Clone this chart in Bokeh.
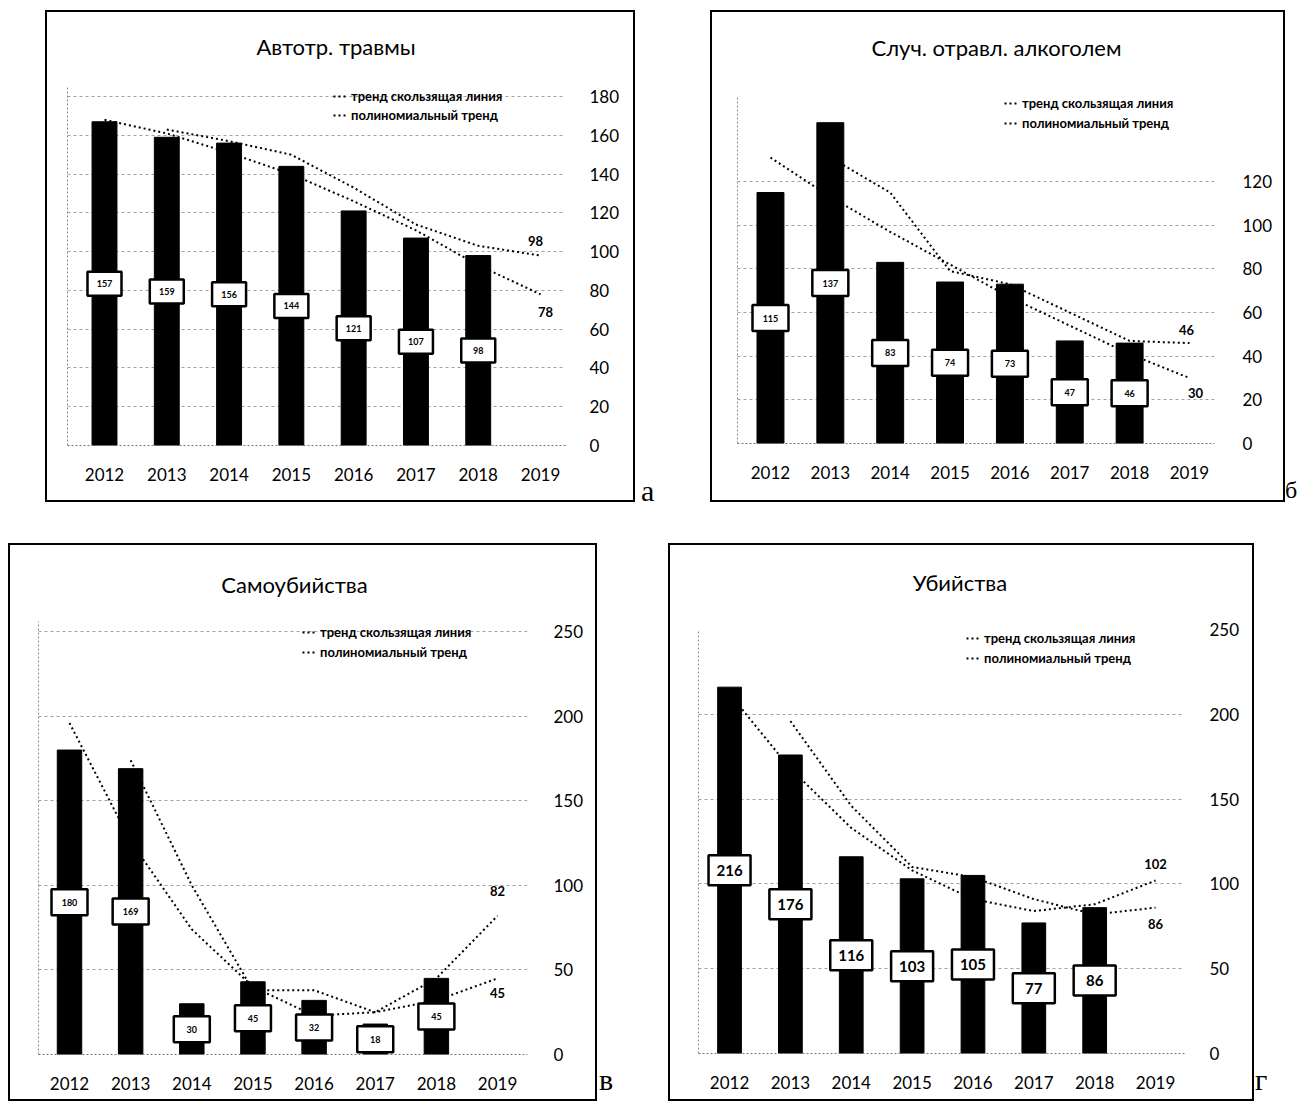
from bokeh.plotting import figure
from bokeh.models import (ColumnDataSource, Range1d, FixedTicker, Legend, LegendItem,
                          Div, Spacer, LinearAxis)
from bokeh.layouts import row, column
from bokeh.embed import file_html
from bokeh.resources import INLINE
from bokeh.core.properties import value

# ---------------- data ----------------
years = [2012, 2013, 2014, 2015, 2016, 2017, 2018]
year_ticks = [2012, 2013, 2014, 2015, 2016, 2017, 2018, 2019]
ma_years = [2013, 2014, 2015, 2016, 2017, 2018, 2019]
poly_years = [2012, 2013, 2014, 2015, 2016, 2017, 2018, 2019]

legend_ma = "тренд скользящая линия"
legend_poly = "полиномиальный тренд"

auto_title = "Автотр. травмы"
auto_values = [167, 159, 156, 144, 121, 107, 98]
auto_labels = ["157", "159", "156", "144", "121", "107", "98"]
auto_ma = [163, 157, 150, 133, 114, 103, 98]
auto_poly = [168, 161, 151, 140, 126, 111, 93, 78]
auto_yticks = [0, 20, 40, 60, 80, 100, 120, 140, 160, 180]

alco_title = "Случ. отравл. алкоголем"
alco_values = [115, 147, 83, 74, 73, 47, 46]
alco_labels = ["115", "137", "83", "74", "73", "47", "46"]
alco_ma = [131, 115, 79, 73, 60, 47, 46]
alco_poly = [131, 113, 97, 82, 67, 54, 41, 30]
alco_yticks = [0, 20, 40, 60, 80, 100, 120]

suic_title = "Самоубийства"
suic_values = [180, 169, 30, 43, 32, 18, 45]
suic_labels = ["180", "169", "30", "45", "32", "18", "45"]
suic_ma = [174, 100, 38, 38, 25, 32, 45]
suic_poly = [196, 126, 74, 40, 23, 25, 45, 82]
suic_yticks = [0, 50, 100, 150, 200, 250]

murd_title = "Убийства"
murd_values = [216, 176, 116, 103, 105, 77, 86]
murd_labels = ["216", "176", "116", "103", "105", "77", "86"]
murd_ma = [196, 146, 110, 104, 91, 82, 86]
murd_poly = [212, 168, 133, 108, 91, 84, 88, 102]
murd_yticks = [0, 50, 100, 150, 200, 250]

FONT = "Lato"
TITLE_H = 60


def panel(title, vals, labels, ma, poly, yticks, cfg):
    p = figure(width=cfg["w"], height=cfg["h"] - TITLE_H, output_backend="svg",
               toolbar_location=None,
               x_range=Range1d(*cfg["xr"]), y_range=Range1d(*cfg["yr"]),
               y_axis_location="right",
               min_border_left=cfg["mb"][0], min_border_right=cfg["mb"][1],
               min_border_top=cfg["mb"][2], min_border_bottom=cfg["mb"][3],
               background_fill_color="white", border_fill_color=None, margin=0)
    p.outline_line_color = None

    p.xaxis.ticker = FixedTicker(ticks=year_ticks)
    p.xaxis.major_label_text_font = FONT
    p.xaxis.major_label_text_font_size = "17px"
    p.xaxis.major_label_text_color = "black"
    p.xaxis.axis_line_color = "#777777"
    p.xaxis.axis_line_dash = "2 2"
    p.xaxis.major_tick_line_color = None
    p.xaxis.minor_tick_line_color = None
    p.xaxis.major_label_standoff = 16

    p.yaxis.ticker = FixedTicker(ticks=yticks)
    p.yaxis.major_label_text_font = FONT
    p.yaxis.major_label_text_font_size = "17px"
    p.yaxis.major_label_text_color = "black"
    p.yaxis.axis_line_color = None
    p.yaxis.major_tick_line_color = None
    p.yaxis.minor_tick_line_color = None
    p.yaxis.major_label_standoff = cfg["ystand"]

    left = LinearAxis(ticker=FixedTicker(ticks=[]), axis_line_color="#888888",
                      axis_line_dash="2 2", major_tick_line_color=None,
                      minor_tick_line_color=None)
    p.add_layout(left, "left")

    p.ygrid.ticker = FixedTicker(ticks=yticks)
    p.ygrid.grid_line_color = "#8a8a8a"
    p.ygrid.grid_line_dash = "3 3"
    p.ygrid.grid_line_alpha = 0.8
    p.xgrid.grid_line_color = None

    src = ColumnDataSource(dict(year=years, val=vals, mid=[v / 2 for v in vals], lab=labels))
    p.vbar(x="year", top="val", width=cfg["bw"], source=src, fill_color="black", line_color="black")

    r_ma = p.line(ma_years, ma, line_color="black", line_width=2, line_dash="2 3")
    r_poly = p.line(poly_years, poly, line_color="black", line_width=2, line_dash="2 3")

    p.rect(x="year", y="mid", width=cfg["box"][0], height=cfg["box"][1],
           width_units="screen", height_units="screen", source=src,
           fill_color="white", line_color="black", line_width=2.5)
    p.text(x="year", y="mid", text="lab", source=src, text_font=value(FONT),
           text_font_style="bold", text_font_size=cfg["lfs"], text_align="center",
           text_baseline="middle", text_color="black")

    # end-of-trend value labels
    p.text(x=[ma_years[-1]], y=[ma[-1]], text=[str(ma[-1])], x_offset=cfg["ma_off"][0],
           y_offset=cfg["ma_off"][1], text_font=value(FONT), text_font_style="bold",
           text_font_size="13px", text_align="center", text_baseline="middle")
    p.text(x=[poly_years[-1]], y=[poly[-1]], text=[str(poly[-1])], x_offset=cfg["poly_off"][0],
           y_offset=cfg["poly_off"][1], text_font=value(FONT), text_font_style="bold",
           text_font_size="13px", text_align="center", text_baseline="middle")

    leg = Legend(items=[LegendItem(label=legend_ma, renderers=[r_ma]),
                        LegendItem(label=legend_poly, renderers=[r_poly])],
                 location=cfg["leg"], orientation="vertical")
    leg.background_fill_alpha = 0
    leg.border_line_alpha = 0
    leg.padding = 0
    leg.margin = 0
    leg.spacing = cfg["legsp"]
    leg.glyph_width = 15
    leg.glyph_height = 16
    leg.label_height = 16
    leg.label_standoff = 3
    leg.label_text_font = FONT
    leg.label_text_font_style = "bold"
    leg.label_text_font_size = "13px"
    leg.label_text_color = "black"
    p.add_layout(leg)

    head = Div(text=('<div style="font-family:Lato;font-size:22px;line-height:26px;'
                     'color:black;text-align:center;width:%dpx;padding-top:%dpx;'
                     'position:relative;left:%dpx;white-space:nowrap">%s</div>'
                     % (cfg["w"], cfg["tpad"], cfg["tshift"], title)),
               width=cfg["w"], height=TITLE_H, margin=0)
    box = column(head, p, margin=0, styles={"box-shadow": "inset 0 0 0 2px #000"})
    return box


cfg_a = dict(w=590, h=492, mb=(22, 70, 16, 57), xr=(2011.406, 2019.401), yr=(0, 185.2),
             bw=0.4, box=(34, 24), lfs="9px", leg=(266, 322), legsp=3, tpad=24, tshift=-4,
             ystand=18, ma_off=(-5, -15), poly_off=(5, 18))
cfg_b = dict(w=575, h=492, mb=(27, 71, 26, 59), xr=(2011.449, 2019.418), yr=(0, 159),
             bw=0.45, box=(36, 26), lfs="9px", leg=(267, 312), legsp=4, tpad=25, tshift=-1,
             ystand=22, ma_off=(-3, -13), poly_off=(6, 15))
cfg_c = dict(w=589, h=558, mb=(30, 70, 18, 47), xr=(2011.493, 2019.49), yr=(0, 256),
             bw=0.4, box=(36, 26), lfs="9px", leg=(264, 394), legsp=4, tpad=29, tshift=-8,
             ystand=20, ma_off=(0, 15), poly_off=(0, -25))
cfg_d = dict(w=586, h=558, mb=(30, 70, 26, 48), xr=(2011.49, 2019.476), yr=(0, 250),
             bw=0.39, box=(42, 30), lfs="15px", leg=(268, 387), legsp=4, tpad=27, tshift=-1,
             ystand=19, ma_off=(0, 16), poly_off=(0, -17))

fa = panel(auto_title, auto_values, auto_labels, auto_ma, auto_poly, auto_yticks, cfg_a)
fb = panel(alco_title, alco_values, alco_labels, alco_ma, alco_poly, alco_yticks, cfg_b)
fc = panel(suic_title, suic_values, suic_labels, suic_ma, suic_poly, suic_yticks, cfg_c)
fd = panel(murd_title, murd_values, murd_labels, murd_ma, murd_poly, murd_yticks, cfg_d)


def letter(ch, w, h, top, left, size):
    html = ('<div style="font-family:\'Liberation Serif\',serif;font-size:%dpx;line-height:%dpx;'
            'margin-top:%dpx;margin-left:%dpx;color:black">%s</div>' % (size, size, top, left, ch))
    return Div(text=html, width=w, height=h, margin=0, styles={"overflow": "hidden"})


da = letter("а", 75, 500, 466, 6, 30)
db = letter("б", 12, 500, 468, 0, 24)
dc = letter("в", 71, 558, 522, 2, 30)
dd = letter("г", 20, 558, 522, 1, 30)

top = row(Spacer(width=45, height=492, margin=0), fa, da, fb, db, margin=0)
bottom = row(Spacer(width=8, height=558, margin=0), fc, dc, fd, dd, margin=0)
layout = column(Spacer(width=10, height=10, margin=0), top, Spacer(width=10, height=33, margin=0),
                bottom, margin=0)

open("out.html", "w").write(file_html(layout, INLINE))
